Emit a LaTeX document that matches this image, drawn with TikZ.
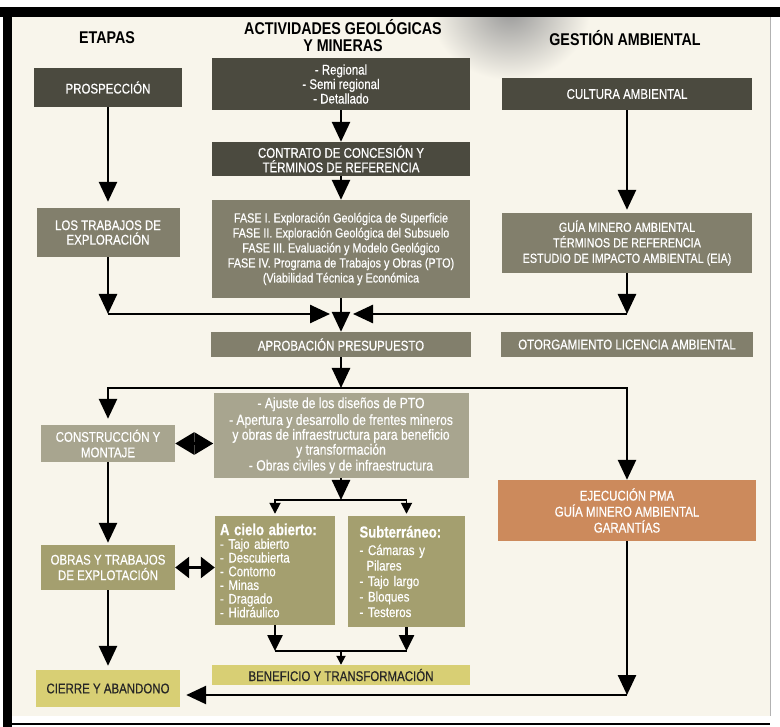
\documentclass[tikz,border=0pt]{standalone}
\usepackage{fontspec}
\setmainfont{Liberation Sans}[FakeStretch=0.84]
\newfontfamily\boxfont{Liberation Sans}[FakeStretch=0.82, FakeBold=0.5]
\usepackage{xcolor}
\usetikzlibrary{arrows.meta,positioning}

\definecolor{cream}{HTML}{F8F5EB}
\definecolor{cDark}{HTML}{4B4A3F}
\definecolor{cMid}{HTML}{827F6C}
\definecolor{cLight}{HTML}{A8A58F}
\definecolor{cOlive}{HTML}{A49F6F}
\definecolor{cYellow}{HTML}{D8CF74}
\definecolor{cOrange}{HTML}{CC8A5C}

\begin{document}
\begin{tikzpicture}[x=1pt, y=-1pt, >={Triangle[length=20pt,width=18pt]}, line/.style={draw=black, line width=2.6pt}, small/.style={-{Triangle[length=11pt,width=11pt]}}]
    % Define styles for boxes, headers and junctions
    \tikzstyle{box} = [rectangle, inner sep=2pt, align=center, text=white, font=\boxfont\fontsize{14}{14.5}\selectfont]
    \tikzstyle{darkbox} = [box, fill=cDark]
    \tikzstyle{midbox} = [box, fill=cMid]
    \tikzstyle{lightbox} = [box, fill=cLight]
    \tikzstyle{olivebox} = [box, fill=cOlive]
    \tikzstyle{yellowbox} = [box, fill=cYellow, text=black!85]
    \tikzstyle{orangebox} = [box, fill=cOrange]
    \tikzstyle{header} = [align=center, font=\bfseries\fontsize{17}{17}\selectfont]
    \tikzstyle{junction} = [coordinate]

    % Frame and background
    \useasboundingbox (0,0) rectangle (780,727);
    \fill[white] (0,0) rectangle (780,727);
    \fill[cream] (12,17) rectangle (770,716);
    \begin{scope}
        \clip (12,17) rectangle (770,716);
        \shade[inner color=black!40, outer color=cream] (430,-60) rectangle (590,80);
    \end{scope}
    \fill[black] (0,7) rectangle (780,17);
    \fill[black] (3,7) rectangle (12,727);
    \fill[black] (12,723) rectangle (770,725);
    \draw[black!30, line width=0.8pt] (770,17) -- (770,716);

    % Column headers
    \node [header] (etapas) at (107,38) {ETAPAS};
    \node [header] (actividades) at (343,36) {ACTIVIDADES GEOLÓGICAS\\Y MINERAS};
    \node [header] (gestion) at (625,38) {GESTIÓN AMBIENTAL};

    % Left column
    \node [darkbox, minimum width=148, minimum height=39] (prosp) at (108,87.5) {PROSPECCIÓN};
    \node [midbox, minimum width=143, minimum height=49, below of=prosp, node distance=145pt] (trabajos) {LOS TRABAJOS DE\\EXPLORACIÓN};
    \node [lightbox, minimum width=134, minimum height=37, below of=trabajos, node distance=211pt, font=\boxfont\fontsize{14}{15.5}\selectfont] (constr) {CONSTRUCCIÓN Y\\MONTAJE};
    \node [olivebox, minimum width=134, minimum height=45, below of=constr, node distance=124pt, font=\boxfont\fontsize{14}{15.5}\selectfont] (obras) {OBRAS Y TRABAJOS\\DE EXPLOTACIÓN};
    \node [yellowbox, minimum width=144, minimum height=37, below of=obras, node distance=121pt] (cierre) {CIERRE Y ABANDONO};

    % Middle column
    \node [darkbox, minimum width=258, minimum height=52] (regional) at (341,84) {- Regional\\- Semi regional\\- Detallado};
    \node [darkbox, minimum width=258, minimum height=34, below of=regional, node distance=75pt] (contrato) {CONTRATO DE CONCESIÓN Y\\TÉRMINOS DE REFERENCIA};
    \node [midbox, minimum width=258, minimum height=98, below of=contrato, node distance=90pt, font=\boxfont\fontsize{13.2}{15}\selectfont] (fase) {FASE I. Exploración Geológica de Superficie\\FASE II. Exploración Geológica del Subsuelo\\FASE III. Evaluación y Modelo Geológico\\FASE IV. Programa de Trabajos y Obras (PTO)\\(Viabilidad Técnica y Económica};
    \node [midbox, minimum width=260, minimum height=25, below of=fase, node distance=95.5pt] (aprob) {APROBACIÓN PRESUPUESTO};
    \node [lightbox, minimum width=255, minimum height=85, below of=aprob, node distance=91pt, font=\boxfont\fontsize{14.8}{13.6}\selectfont] (ajuste) {- Ajuste de los diseños de PTO\\[2pt]- Apertura y desarrollo de frentes mineros\\y obras de infraestructura para beneficio\\y transformación\\[1pt]- Obras civiles y de infraestructura};
    \node [olivebox, minimum width=120, minimum height=109, text width=110, align=left, font=\boxfont\fontsize{14}{13.7}\selectfont] (cielo) at (275,570.5) {{\bfseries\fontsize{16}{16}\selectfont A cielo abierto:}\\- Tajo abierto\\- Descubierta\\- Contorno\\- Minas\\- Dragado\\- Hidráulico};
    \node [olivebox, minimum width=117, minimum height=111, text width=94, align=left, font=\boxfont\fontsize{14}{15.5}\selectfont] (subt) at (406.5,571.5) {{\bfseries\fontsize{16}{16}\selectfont Subterráneo:}\\[2pt]- Cámaras y\\\hspace*{7pt}Pilares\\- Tajo largo\\- Bloques\\- Testeros};
    \node [yellowbox, minimum width=258, minimum height=20] (benef) at (341,675) {BENEFICIO Y TRANSFORMACIÓN};

    % Right column
    \node [darkbox, minimum width=250, minimum height=32] (cultura) at (627,94) {CULTURA AMBIENTAL};
    \node [midbox, minimum width=250, minimum height=60, below of=cultura, node distance=149pt, font=\boxfont\fontsize{13.2}{15.5}\selectfont] (guia) {GUÍA MINERO AMBIENTAL\\TÉRMINOS DE REFERENCIA\\ESTUDIO DE IMPACTO AMBIENTAL (EIA)};
    \node [midbox, minimum width=252, minimum height=25, below of=guia, node distance=101.5pt] (otorg) {OTORGAMIENTO LICENCIA AMBIENTAL};
    \node [orangebox, minimum width=258, minimum height=61, below of=otorg, node distance=166pt, font=\boxfont\fontsize{14}{16}\selectfont] (ejec) {EJECUCIÓN PMA\\GUÍA MINERO AMBIENTAL\\GARANTÍAS};

    % Junctions
    \node [junction] (jm) at (341,314) {};
    \node [junction] (sa) at (341,388) {};
    \node [junction] (sb) at (341,500) {};
    \node [junction] (sc) at (341,651) {};
    \node [junction] (sd) at (627,695) {};

    % Draw edges
    \draw[line, ->, shorten >=6pt] (prosp) -- (trabajos);
    \draw[line, ->] (regional) -- (contrato);
    \draw[line, ->] (contrato) -- (fase);
    \draw[line, ->, shorten >=3pt] (cultura) -- (guia);

    % Merging into the budget approval
    \draw[line, ->] (trabajos) -- (trabajos |- jm);
    \draw[line, ->] (guia) -- (guia |- jm);
    \draw[line, ->, shorten >=11pt] (trabajos |- jm) -- (jm);
    \draw[line, ->, shorten >=12pt] (guia |- jm) -- (jm);
    \draw[line, ->] (fase) -- (aprob);

    % Splitting after the budget approval
    \draw[line, ->] (aprob) -- (sa);
    \draw[line, ->, shorten >=6pt] (sa) -| (constr);
    \draw[line, ->] (sa) -| (ejec);
    \draw[line, {Triangle[length=19pt,width=22pt]}-{Triangle[length=19pt,width=22pt]}] (constr.east) -- (constr.east -| ajuste.west);
    \draw[line, ->, shorten >=2pt] (constr) -- (obras);
    \draw[line, {Triangle[length=14pt,width=21pt]}-{Triangle[length=14pt,width=21pt]}] (obras.east) -- (obras.east -| cielo.west);
    \draw[line, ->, shorten >=4pt] (obras) -- (cierre);

    % Mining methods
    \draw[line, ->] (ajuste) -- (sb);
    \draw[line, line width=1.8pt, small, shorten >=2pt] (sb) -| (cielo);
    \draw[line, line width=1.8pt, small, shorten >=2pt] (sb) -| (subt);
    \draw[line, ->, >={Triangle[length=16pt,width=15pt]}] (cielo) -- (cielo |- sc);
    \draw[line, ->, >={Triangle[length=16pt,width=15pt]}] (subt) -- (subt |- sc);
    \draw[line] (cielo |- sc) -- (subt |- sc);
    \draw[line, line width=1.8pt, -{Triangle[length=9pt,width=9pt]}] (sc) -- (benef);

    % Environmental plan back to closure
    \draw[line, ->] (ejec) -- (sd);
    \draw[line, ->, shorten >=6pt] (sd) -- (cierre.east |- sd);
\end{tikzpicture}
\end{document}
